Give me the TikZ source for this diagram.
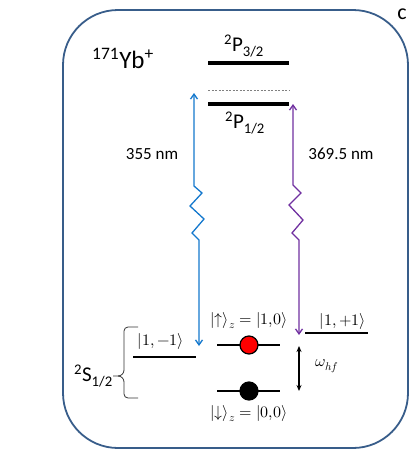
\documentclass[tikz,border=0pt]{standalone}
\usepackage{fontspec}
\usepackage{unicode-math}
\setmainfont{Carlito}
\setmathfont{Latin Modern Math}
\usetikzlibrary{arrows.meta}
\definecolor{boxblue}{RGB}{56,93,138}
\definecolor{laserblue}{RGB}{20,120,205}
\definecolor{laserpurple}{RGB}{112,48,160}
\tikzset{
  level/.style={line width=3.2pt,black},
  slevel/.style={line width=1.8pt,black},
  laser/.style={line width=1.3pt,{Straight Barb[length=5pt,width=7pt]}-{Straight Barb[length=5pt,width=7pt]}},
  lbl/.style={inner sep=0pt},
  ket/.style={inner sep=0pt,font=\fontsize{16}{19}\selectfont},
  state/.style={circle,draw=black,line width=1.2pt,minimum size=18pt,inner sep=0pt},
}
\begin{document}
\begin{tikzpicture}[x=1pt,y=-1pt]
\useasboundingbox (0,0) rectangle (416,455);
% frame
\draw[boxblue,line width=1.8pt,rounded corners=55pt] (63,10) rectangle (408,448);
\node[lbl] (c) at (402,14) {\fontsize{22}{24}\selectfont c};
\node[lbl] (yb) at (123,58) {\fontsize{25}{28}\selectfont\textsuperscript{171}Yb\textsuperscript{+}};
% P levels
\coordinate (p3l) at (208,63); \coordinate (p3r) at (289,63);
\coordinate (dl) at (208,90); \coordinate (dr) at (289,90);
\coordinate (p1l) at (208,104); \coordinate (p1r) at (289,104);
\draw[level] (p3l) -- (p3r);
\draw[gray,line width=0.5pt,dash pattern=on 2pt off 1.5pt] (dl) -- (dr);
\draw[level] (p1l) -- (p1r);
\node[lbl] (p3) at (244,46) {\fontsize{21}{24}\selectfont\textsuperscript{2}P\textsubscript{3/2}};
\node[lbl] (p1) at (245,123) {\fontsize{21}{24}\selectfont\textsuperscript{2}P\textsubscript{1/2}};
% S levels
\coordinate (m1l) at (133,357); \coordinate (m1r) at (196,357);
\coordinate (ul) at (217,345); \coordinate (ur) at (280,345);
\coordinate (dnl) at (217,391); \coordinate (dnr) at (280,391);
\coordinate (pl) at (305,333); \coordinate (pr) at (368,333);
\draw[slevel] (m1l) -- (m1r);
\draw[slevel] (ul) -- (ur);
\draw[slevel] (dnl) -- (dnr);
\draw[slevel] (pl) -- (pr);
\node[state,fill=red] (up) at (249,345) {};
\node[state,fill=black] (down) at (249,391) {};
\node[ket] (m1lab) at (161,341) {$|1,-1\rangle$};
\node[ket] (uplab) at (249,321) {$|{\uparrow}\rangle_z = |1{,}0\rangle$};
\node[ket] (dnlab) at (249,414) {$|{\downarrow}\rangle_z = |0{,}0\rangle$};
\node[ket] (plab) at (343,321) {$|1,+1\rangle$};
% hyperfine splitting
\coordinate (wt) at (299,346); \coordinate (wb) at (299,391);
\draw[line width=1.5pt,{Stealth[length=6pt,width=5pt]}-{Stealth[length=6pt,width=5pt]}] (wt) -- (wb);
\node[ket] (wlab) at (327,366) {$\omega_{hf}$};
% lasers
\coordinate (bb) at (199,346); \coordinate (bt) at (194,93);
\draw[laser,laserblue] (bb) -- (199,240) -- (192,233) -- (204,219) -- (190,206) -- (202,193) -- (194,186) -- (bt);
\coordinate (vb) at (299,335); \coordinate (vt) at (293,104);
\draw[laser,laserpurple] (vb) -- (299,240) -- (292,233) -- (303,220) -- (289,205) -- (301,193) -- (293,185) -- (vt);
\node[lbl] (l355) at (152,154) {\fontsize{17}{20}\selectfont 355 nm};
\node[lbl] (l369) at (341,154) {\fontsize{17}{20}\selectfont 369.5 nm};
% brace
\coordinate (btip) at (113,376);
\draw[black!80,line width=0.8pt] (138,327) -- (128,327) to[out=180,in=90] (124,331) -- (124,370)
  to[out=-90,in=0] (118,376) -- (btip);
\draw[black!80,line width=0.8pt] (118,376) to[out=0,in=90] (124,382) -- (124,394) to[out=-90,in=180] (128,398) -- (138,398);
\node[lbl,anchor=east] (slab) at (btip) {\fontsize{21}{24}\selectfont\textsuperscript{2}S\textsubscript{1/2}};
\end{tikzpicture}
\end{document}
